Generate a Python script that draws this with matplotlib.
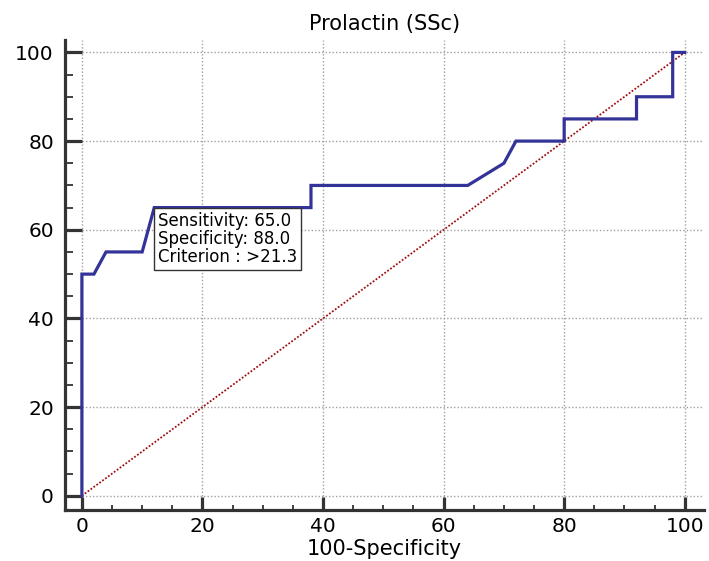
import matplotlib
matplotlib.use('Agg')
import matplotlib.pyplot as plt
from matplotlib.ticker import MultipleLocator

# the reference text is quite wide, DejaVu Sans comes closer than Arial here
plt.rcParams['font.family'] = ['DejaVu Sans']

# ROC curve points (100-Specificity, Sensitivity)
fpr = [0, 0, 2, 4, 10, 12, 38, 38, 64, 70, 72, 80, 80, 92, 92, 98, 98, 100]
tpr = [0, 50, 50, 55, 55, 65, 65, 70, 70, 75, 80, 80, 85, 85, 90, 90, 100, 100]

ref_line = [0, 100]
major_ticks = [0, 20, 40, 60, 80, 100]

best_point = (12, 65)
best_text = 'Sensitivity: 65.0\nSpecificity: 88.0\nCriterion : >21.3'

x_lo, x_hi = -2.8, 103.2
y_lo, y_hi = -3.2, 102.8

fig = plt.figure(figsize=(7.09, 5.61), dpi=100)
ax = fig.add_axes([0.0917, 0.0909, 0.9013, 0.8378])

# grid only covers the data region, not the gap next to the spines
ax.hlines(major_ticks, 0, x_hi, colors='#a0a0a0', linestyles=(0, (1, 1.5)),
          linewidth=1, zorder=1)
ax.vlines(major_ticks, 0, y_hi, colors='#a0a0a0', linestyles=(0, (1, 1.5)),
          linewidth=1, zorder=1)

ax.plot(ref_line, ref_line, color='#a01010', linestyle=(0, (1, 1)),
        linewidth=1.3, zorder=2)
ax.plot(fpr, tpr, color='#333399', linewidth=2.3, zorder=3,
        solid_joinstyle='miter')

# box corner sits on the chosen cut-off point
ax.text(best_point[0] + 0.6, best_point[1] - 1.0, best_text,
        fontsize=12, va='top', ha='left', linespacing=1.0, zorder=4,
        bbox=dict(boxstyle='square,pad=0.25', fc='white', ec='#333333', lw=1))

ax.set_xlim(x_lo, x_hi)
ax.set_ylim(y_lo, y_hi)
ax.xaxis.set_major_locator(MultipleLocator(20))
ax.xaxis.set_minor_locator(MultipleLocator(5))
ax.yaxis.set_major_locator(MultipleLocator(20))
ax.yaxis.set_minor_locator(MultipleLocator(5))

for side in ['top', 'right']:
    ax.spines[side].set_visible(False)
for side in ['left', 'bottom']:
    ax.spines[side].set_linewidth(2.3)
    ax.spines[side].set_color('#333333')

ax.tick_params(axis='x', which='major', direction='in', length=9.5, width=2.3,
               color='#333333', labelsize=14.5, pad=5)
ax.tick_params(axis='x', which='minor', direction='in', length=3.5, width=1.3,
               color='#333333')
ax.tick_params(axis='y', which='major', direction='in', length=12, width=2.3,
               color='#333333', labelsize=14.5, pad=8)
ax.tick_params(axis='y', which='minor', direction='in', length=6, width=1.3,
               color='#333333')

ax.set_xlabel('100-Specificity', fontsize=15, labelpad=2)
ax.set_title('Prolactin (SSc)', fontsize=15, pad=7)

fig.savefig('out.png', dpi=100)
